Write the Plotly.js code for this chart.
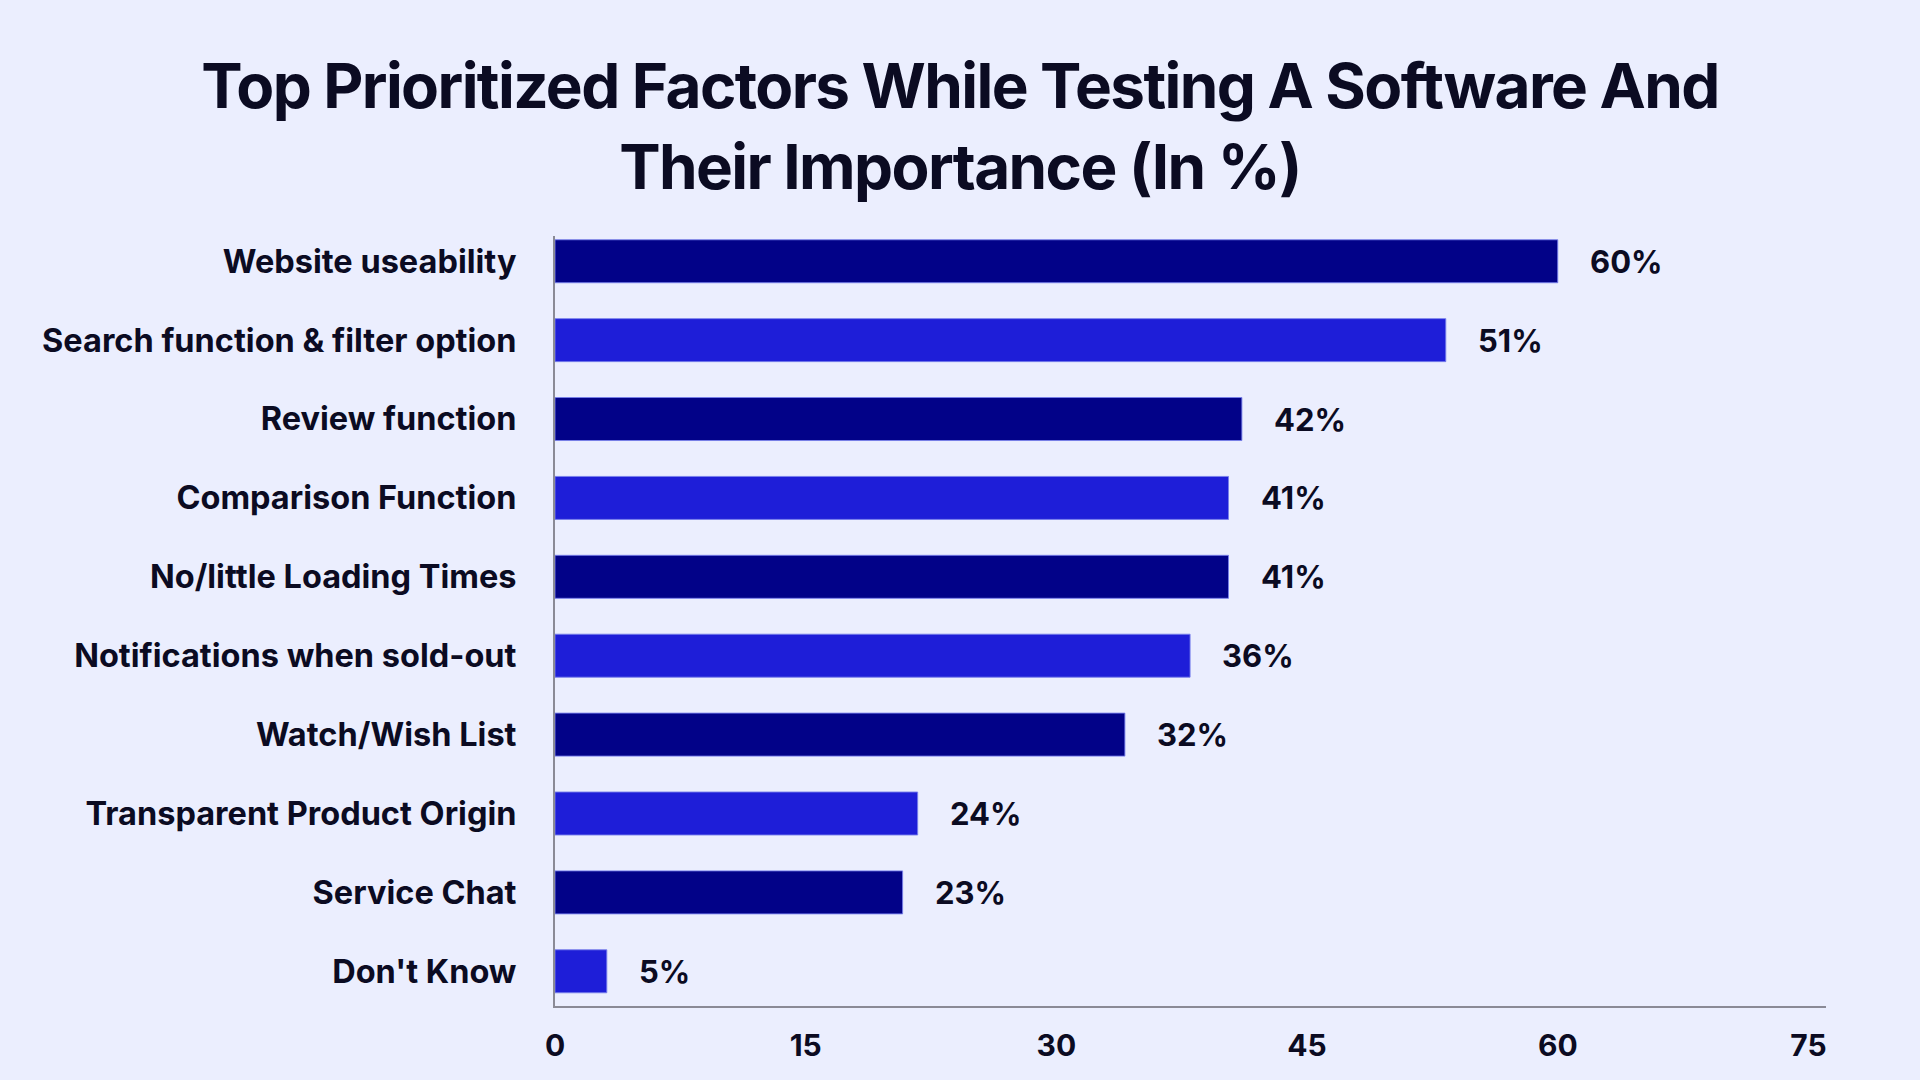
<!DOCTYPE html>
<html>
<head>
<meta charset="utf-8">
<script src="https://cdn.plot.ly/plotly-3.0.1.min.js"></script>
<style>
  html, body { margin: 0; padding: 0; background: #EBEEFE; }
  #chart { width: 1920px; height: 1080px; }
  .gtitle { letter-spacing: -1.6px; }
</style>
</head>
<body>
<div id="chart"></div>
<script>
// Categories, top to bottom
const categories = [
  "Website useability",
  "Search function & filter option",
  "Review function",
  "Comparison Function",
  "No/little Loading Times",
  "Notifications when sold-out",
  "Watch/Wish List",
  "Transparent Product Origin",
  "Service Chat",
  "Don't Know"
];
// Bar lengths as drawn in the picture
const values = [60, 53.3, 41.1, 40.3, 40.3, 38.0, 34.1, 21.7, 20.8, 3.1];
// Value labels as printed in the picture
const valueLabels = ["60%", "51%", "42%", "41%", "41%", "36%", "32%", "24%", "23%", "5%"];
const tickValues = [0, 15, 30, 45, 60, 75];
const tickLabels = ["0", "15", "30", "45", "60", "75"];

const darkBlue = "#020288";
const lightBlue = "#1E1ED8";
const barColors = categories.map((c, i) => (i % 2 === 0 ? darkBlue : lightBlue));
const textColor = "#0B0B22";
const fontFamily = "Inter, 'Open Sans', sans-serif";

const trace = {
  type: "bar",
  orientation: "h",
  x: values,
  y: categories,
  width: 0.545,
  marker: { color: barColors, line: { color: "rgba(120,128,235,0.9)", width: 1 } },
  hoverinfo: "skip"
};

const annotations = categories.map((c, i) => ({
  x: values[i],
  y: c,
  xref: "x",
  yref: "y",
  text: valueLabels[i],
  showarrow: false,
  xanchor: "left",
  yanchor: "middle",
  xshift: 30,
  font: { family: fontFamily, size: 31, color: textColor, weight: 700 }
}));

const n = categories.length;
const layout = {
  width: 1920,
  height: 1080,
  paper_bgcolor: "#EBEEFE",
  plot_bgcolor: "#EBEEFE",
  margin: { l: 555, r: 94, t: 236, b: 74 },
  title: {
    text: "Top Prioritized Factors While Testing A Software And<br>Their Importance (In %)",
    x: 0.5,
    xanchor: "center",
    yref: "container",
    y: 0.9,
    yanchor: "top",
    font: { family: fontFamily, size: 62, color: textColor, weight: 700 }
  },
  xaxis: {
    range: [0, 76.05],
    tickvals: tickValues,
    ticktext: tickLabels,
    showgrid: false,
    zeroline: false,
    showline: true,
    linecolor: "#8A8A96",
    linewidth: 2,
    ticks: "outside",
    ticklen: 12,
    tickcolor: "rgba(0,0,0,0)",
    tickfont: { family: fontFamily, size: 30, color: textColor, weight: 700 },
    fixedrange: true
  },
  yaxis: {
    type: "category",
    range: [n - 1 + 0.44, -0.32],
    showgrid: false,
    zeroline: false,
    showline: true,
    linecolor: "#8A8A96",
    linewidth: 2,
    ticks: "outside",
    ticklen: 30,
    tickcolor: "rgba(0,0,0,0)",
    tickfont: { family: fontFamily, size: 32.5, color: textColor, weight: 700 },
    fixedrange: true
  },
  annotations: annotations,
  showlegend: false,
  bargap: 0.455
};

Plotly.newPlot("chart", [trace], layout, { displayModeBar: false, staticPlot: true });
</script>
</body>
</html>
